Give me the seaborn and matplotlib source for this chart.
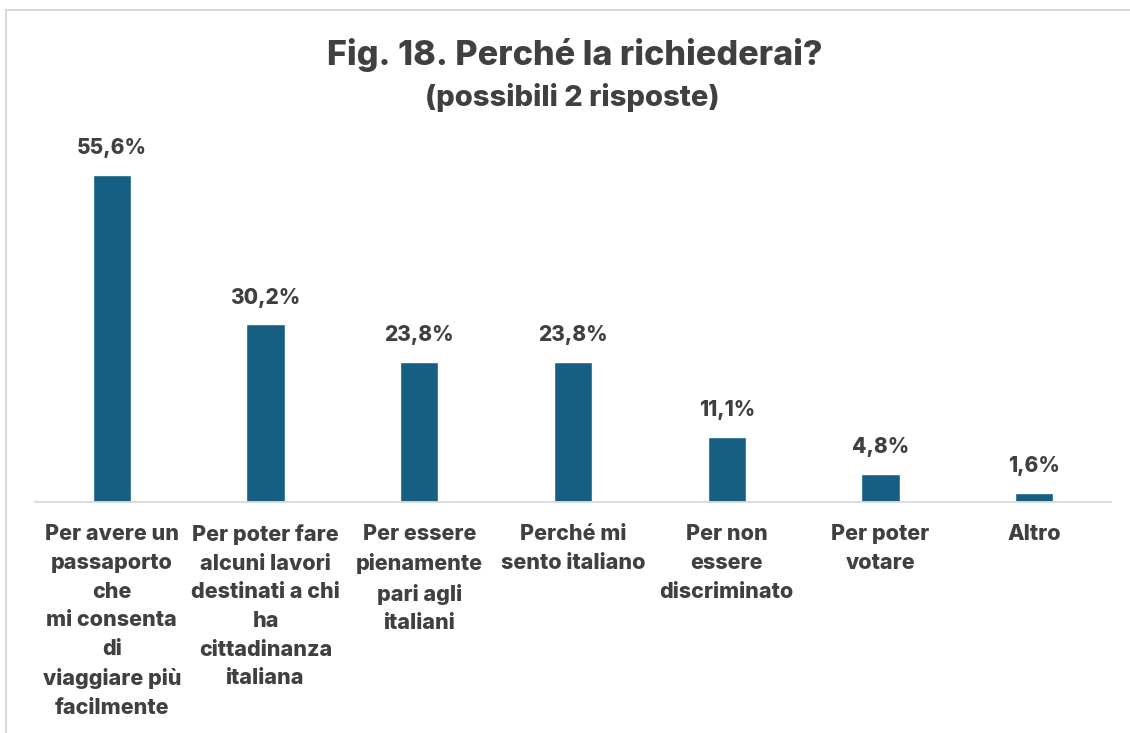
import matplotlib
matplotlib.use("Agg")
import matplotlib.pyplot as plt
from matplotlib.lines import Line2D
import seaborn as sns
import pandas as pd

categories = [
    "Per avere un\npassaporto\nche\nmi consenta\ndi\nviaggiare più\nfacilmente",
    "Per poter fare\nalcuni lavori\ndestinati a chi\nha\ncittadinanza\nitaliana",
    "Per essere\npienamente\npari agli\nitaliani",
    "Perché mi\nsento italiano",
    "Per non\nessere\ndiscriminato",
    "Per poter\nvotare",
    "Altro",
]
values = [55.6, 30.2, 23.8, 23.8, 11.1, 4.8, 1.6]
value_labels = ["55,6%", "30,2%", "23,8%", "23,8%", "11,1%", "4,8%", "1,6%"]

title = "Fig. 18. Perché la richiederai?"
subtitle = "(possibili 2 risposte)"

bar_color = "#156082"
text_color = "#404040"

sns.set_theme(style="white")
plt.rcParams["font.family"] = ["Inter", "DejaVu Sans"]

df = pd.DataFrame({"cat": categories, "val": values})

W, H = 1130, 733
fig = plt.figure(figsize=(W / 100, H / 100), dpi=100)
fig.patch.set_facecolor("white")

# axes: baseline at y=502 px, x from 35 to 1111 px
ax_left, ax_right = 35, 1111
ax_bottom = 502
ax_top = 149
ax = fig.add_axes([ax_left / W, (H - ax_bottom) / H,
                   (ax_right - ax_left) / W, (ax_bottom - ax_top) / H])

sns.barplot(data=df, x="cat", y="val", color=bar_color, saturation=1,
            width=0.25, ax=ax)
ax.set_xlim(-0.5, len(categories) - 0.5)
ax.set_ylim(0, 60)

for i, (v, lab) in enumerate(zip(values, value_labels)):
    ax.annotate(lab, (i, v), xytext=(0, 12), textcoords="offset points",
                ha="center", va="bottom", fontsize=15, fontweight="heavy",
                color=text_color)

ax.set_xlabel("")
ax.set_ylabel("")
ax.set_yticks([])
ax.tick_params(axis="x", length=0, pad=16)
ax.set_xticks(range(len(categories)))
ax.set_xticklabels(categories, fontsize=15.5, fontweight="heavy",
                   color=text_color, linespacing=1.54, va="top")
for s in ["top", "right", "left"]:
    ax.spines[s].set_visible(False)
ax.spines["bottom"].set_color("#d9d9d9")
ax.spines["bottom"].set_linewidth(1.3)

fig.text(575 / W, 1 - 55 / H, title, ha="center", va="center",
         fontsize=24.6, fontweight="heavy", color=text_color)
fig.text(572 / W, 1 - 98 / H, subtitle, ha="center", va="center",
         fontsize=21, fontweight="heavy", color=text_color)

# chart frame (top and left edges)
fig.add_artist(Line2D([6 / W, 1], [1 - 10 / H, 1 - 10 / H], transform=fig.transFigure,
                      color="#d9d9d9", lw=1.5))
fig.add_artist(Line2D([6 / W, 6 / W], [0, 1 - 10 / H], transform=fig.transFigure,
                      color="#d9d9d9", lw=1.5))

fig.savefig("out.png", dpi=100, facecolor="white")
